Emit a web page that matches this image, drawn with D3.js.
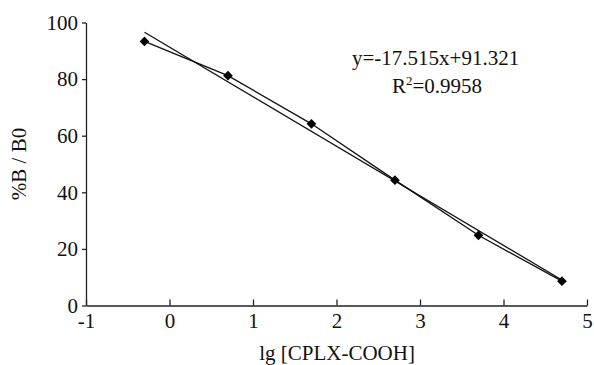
<!DOCTYPE html>
<html>
<head>
<meta charset="utf-8">
<script src="https://cdn.jsdelivr.net/npm/d3@7"></script>
<style>
  body { margin: 0; background: #fff; }
  svg { display: block; }
</style>
</head>
<body>
<div id="chart"></div>
<script>
const xValues = [-0.3, 0.7, 1.7, 2.7, 3.7, 4.7];
const yValues = [93.3, 81.2, 64.2, 44.3, 24.8, 8.6];
const xTicks = [-1, 0, 1, 2, 3, 4, 5];
const yTicks = [0, 20, 40, 60, 80, 100];
const slope = -17.515;
const intercept = 91.321;
const equationText = 'y=-17.515x+91.321';
const rSquared = '0.9958';

const width = 594;
const height = 365;
const plotLeft = 86;
const plotRight = 587;
const plotTop = 22.5;
const plotBottom = 305.5;
const serif = '"Liberation Serif", "Times New Roman", serif';
const fontSize = 21;

const svg = d3.select('#chart')
              .append('svg')
              .attr('width', width)
              .attr('height', height)
              .attr('font-family', serif);

const x = d3.scaleLinear().domain([-1, 5]).range([plotLeft, plotRight]);
const y = d3.scaleLinear().domain([0, 100]).range([plotBottom, plotTop]);

function styleAxis(g) {
  g.attr('font-family', serif).attr('font-size', fontSize);
  g.selectAll('path, line').attr('stroke', '#222').attr('stroke-width', 1.3);
  g.selectAll('text').attr('fill', '#111');
}

// X axis, ticks point up into the plot
svg.append('g')
   .attr('transform', `translate(0, ${plotBottom})`)
   .call(d3.axisBottom(x)
           .tickValues(xTicks)
           .tickSize(-6)
           .tickSizeOuter(0)
           .tickPadding(8)
           .tickFormat((d) => String(d)))
   .call(styleAxis);

// Y axis
svg.append('g')
   .attr('transform', `translate(${plotLeft}, 0)`)
   .call(d3.axisLeft(y)
           .tickValues(yTicks)
           .tickSize(4)
           .tickSizeOuter(0)
           .tickPadding(4))
   .call(styleAxis);

// data line
const data = xValues.map((v, i) => ({ x: v, y: yValues[i] }));
const line = d3.line().x((d) => x(d.x)).y((d) => y(d.y));
svg.append('path')
   .attr('d', line(data))
   .attr('fill', 'none')
   .attr('stroke', '#111')
   .attr('stroke-width', 1.3);

// trend line
const x0 = d3.min(xValues);
const x1 = d3.max(xValues);
svg.append('path')
   .attr('d', line([{ x: x0, y: slope * x0 + intercept }, { x: x1, y: slope * x1 + intercept }]))
   .attr('fill', 'none')
   .attr('stroke', '#111')
   .attr('stroke-width', 1.3);

// markers
svg.selectAll('.pt')
   .data(data)
   .enter()
   .append('path')
   .attr('class', 'pt')
   .attr('transform', (d) => `translate(${x(d.x)}, ${y(d.y)})`)
   .attr('d', d3.symbol(d3.symbolDiamond2, 60)())
   .attr('fill', '#000');

// equation
svg.append('text')
   .attr('x', 352)
   .attr('y', 65)
   .attr('font-size', fontSize)
   .attr('fill', '#111')
   .text(equationText);

const r2 = svg.append('text')
   .attr('x', 392)
   .attr('y', 93)
   .attr('font-size', fontSize)
   .attr('fill', '#111');
r2.append('tspan').text('R');
r2.append('tspan').attr('dy', -8).attr('font-size', 13).text('2');
r2.append('tspan').attr('dy', 8).text('=' + rSquared);

// axis titles
svg.append('text')
   .attr('x', 337)
   .attr('y', 360)
   .attr('text-anchor', 'middle')
   .attr('font-size', fontSize)
   .attr('fill', '#111')
   .text('lg [CPLX-COOH]');

svg.append('text')
   .attr('transform', 'translate(26, 164) rotate(-90)')
   .attr('text-anchor', 'middle')
   .attr('font-size', fontSize)
   .attr('fill', '#111')
   .text('%B / B0');
</script>
</body>
</html>
